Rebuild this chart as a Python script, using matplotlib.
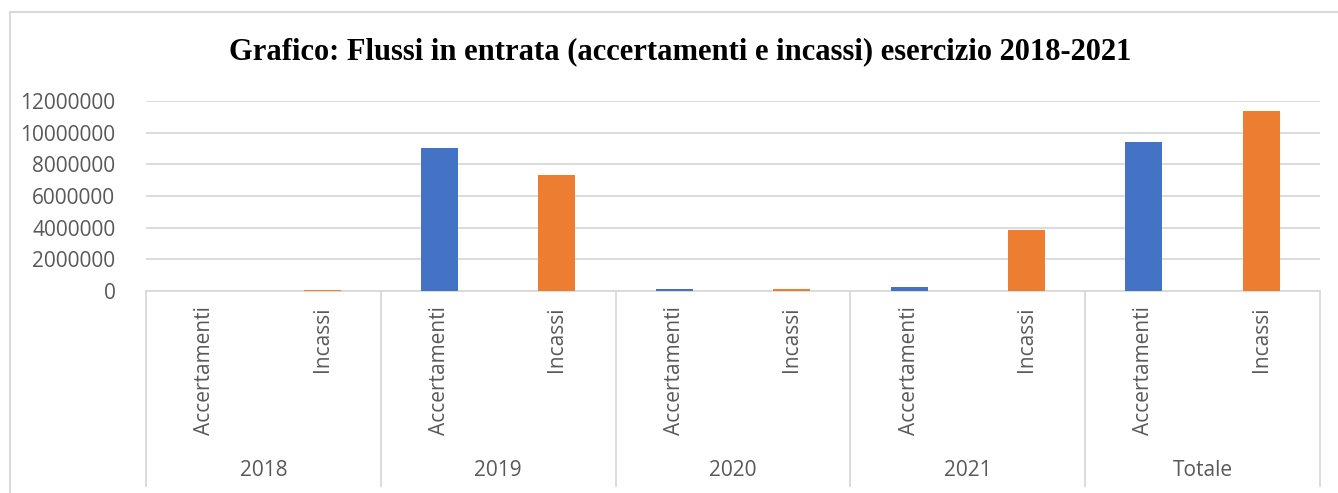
import matplotlib
matplotlib.use("Agg")
import matplotlib.pyplot as plt
from matplotlib.lines import Line2D
from matplotlib import transforms

# Data
years = ["2018", "2019", "2020", "2021", "Totale"]
measures = ["Accertamenti", "Incassi"]
accertamenti = [20000, 9010000, 100000, 230000, 9400000]
incassi = [50000, 7330000, 120000, 3840000, 11380000]
y_ticks = [0, 2000000, 4000000, 6000000, 8000000, 10000000, 12000000]

W, H = 1338, 493
BLUE = "#4472C4"
ORANGE = "#ED7D31"
GRID = "#D9D9D9"
TEXT = "#595959"
SANS = "Open Sans"

fig = plt.figure(figsize=(W / 100, H / 100), dpi=100)


def fx(px):
    return px / W


def fy(py):
    return 1 - py / H


# Plot area
left, right, top, bottom = 146, 1320, 101, 291
ax = fig.add_axes([fx(left), fy(bottom), fx(right - left), (bottom - top) / H])

n = len(years) * len(measures)
xs_acc = [2 * i for i in range(len(years))]
xs_inc = [2 * i + 1 for i in range(len(years))]
bar_w = 0.315
ax.bar(xs_acc, accertamenti, width=bar_w, color=BLUE, zorder=3)
ax.bar(xs_inc, incassi, width=bar_w, color=ORANGE, zorder=3)

ax.set_xlim(-0.5, n - 0.5)
ax.set_ylim(0, y_ticks[-1])
ax.set_yticks(y_ticks)
ax.set_yticklabels([str(v) for v in y_ticks], fontsize=15, color=TEXT, family=SANS)
ax.tick_params(axis="y", length=0, pad=22)
ax.set_xticks([])
ax.grid(axis="y", color=GRID, linewidth=1.3, zorder=0)
for side in ["top", "right", "left"]:
    ax.spines[side].set_visible(False)
ax.spines["bottom"].set_color(GRID)
ax.spines["bottom"].set_linewidth(1.3)

# Multi-level category axis
trans = transforms.blended_transform_factory(ax.transData, fig.transFigure)
for g in range(len(years) + 1):
    xb = 2 * g - 0.5
    fig.add_artist(Line2D([xb, xb], [fy(bottom), fy(486)], transform=trans,
                          color=GRID, linewidth=1.3))
for i, year in enumerate(years):
    for j, m in enumerate(measures):
        ax.text(2 * i + j, fy(306), m, transform=trans, rotation=90,
                ha="center", va="top", fontsize=15, color=TEXT, family=SANS)
    ax.text(2 * i + 0.5, fy(471), year, transform=trans, ha="center",
            va="center", fontsize=15, color=TEXT, family=SANS)

# Title
fig.text(fx(680), fy(52), "Grafico: Flussi in entrata (accertamenti e incassi) esercizio 2018-2021",
         ha="center", va="center", fontsize=22, fontweight="bold",
         family="Liberation Serif", color="black")

# Chart frame
fig.add_artist(Line2D([fx(10), fx(10)], [fy(12), 0], color=GRID, linewidth=1.5))
fig.add_artist(Line2D([fx(10), 1], [fy(12), fy(12)], color=GRID, linewidth=1.5))

fig.savefig("out.png", dpi=100)
